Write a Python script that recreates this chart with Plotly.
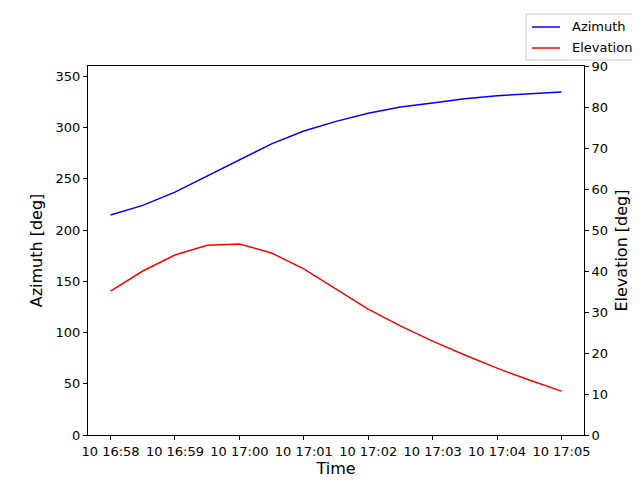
import plotly.graph_objects as go
import pandas as pd

times = pd.date_range("2024-01-10 16:58:00", "2024-01-10 17:05:00", freq="30s")
azimuth = [214.6, 224, 237, 252.7, 268, 284, 296.6, 306, 314, 320, 324, 328, 331, 333, 334.6]
elevation = [35.1, 40.0, 43.9, 46.3, 46.6, 44.4, 40.5, 35.6, 30.7, 26.6, 22.9, 19.5, 16.3, 13.4, 10.7]
tick_times = pd.date_range("2024-01-10 16:58:00", "2024-01-10 17:05:00", freq="1min")
tick_text = [t.strftime("%d %H:%M") for t in tick_times]
series_names = ["Azimuth", "Elevation"]
series_colors = ["blue", "red"]

fig = go.Figure()
fig.add_trace(go.Scatter(x=times, y=azimuth, mode="lines", name=series_names[0],
                         line=dict(color=series_colors[0], width=1.5)))
fig.add_trace(go.Scatter(x=times, y=elevation, mode="lines", name=series_names[1],
                         line=dict(color=series_colors[1], width=1.5), yaxis="y2"))

ax = dict(showgrid=False, zeroline=False, showline=True, linecolor="black",
          ticks="outside", ticklen=4, tickcolor="black", automargin=False,
          tickfont=dict(size=13, color="black"))
fig.update_layout(
    width=640, height=480, plot_bgcolor="white", paper_bgcolor="white",
    font=dict(family="DejaVu Sans", size=13, color="black"),
    margin=dict(l=80, r=64, t=58, b=53),
    showlegend=False,
    xaxis=dict(**ax, mirror=True, tickangle=0,
               range=[pd.Timestamp("2024-01-10 16:57:39"), pd.Timestamp("2024-01-10 17:05:21")],
               tickvals=list(tick_times), ticktext=tick_text,
               title=dict(text="Time", standoff=4)),
    yaxis=dict(**ax, mirror=True, range=[0, 360], tickvals=list(range(0, 351, 50)),
               title=dict(text="Azimuth [deg]", standoff=8)),
    yaxis2=dict(**ax, overlaying="y", side="right",
                range=[0, 90], tickvals=list(range(0, 91, 10)),
                title=dict(text="Elevation [deg]", standoff=8)),
)

# legend box drawn in paper coordinates (plot area: x 80..576, y 58..427 px)
def px(x):
    return (x - 80) / 496
def py(y):
    return (427 - y) / 369

fig.add_shape(type="rect", xref="paper", yref="paper", x0=px(518), x1=px(634), y0=py(52), y1=py(6),
              line=dict(color="#cccccc", width=1), fillcolor="white", layer="above")
for i, (n, c) in enumerate(zip(series_names, series_colors)):
    yy = 19 + i * 21
    fig.add_shape(type="line", xref="paper", yref="paper", x0=px(524), x1=px(552), y0=py(yy), y1=py(yy),
                  line=dict(color=c, width=1.5), layer="above")
    fig.add_annotation(xref="paper", yref="paper", x=px(562), y=py(yy), text=n, showarrow=False,
                       xanchor="left", yanchor="middle", font=dict(size=13, color="black"))
fig.write_html("out.html")
